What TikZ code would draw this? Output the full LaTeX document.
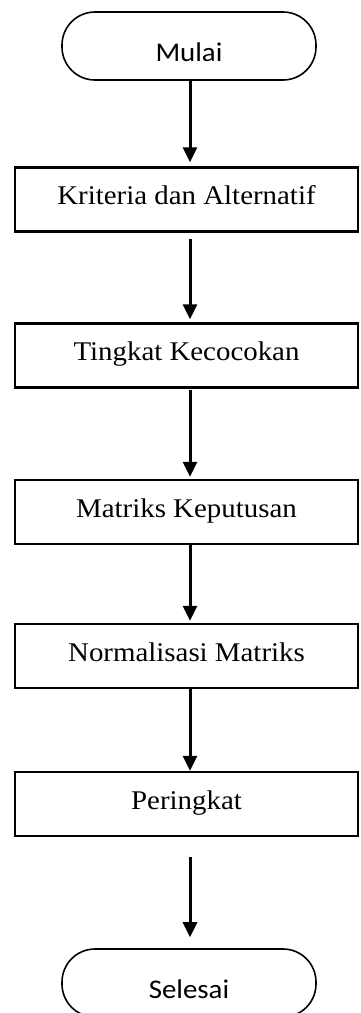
\documentclass[tikz,border=0pt]{standalone}
\usepackage{fontspec}
\setmainfont{Liberation Serif}[FakeStretch=1.07]
\newfontfamily\termfont{Carlito}[FakeStretch=1.07]
\usetikzlibrary{arrows.meta}
\begin{document}
\begin{tikzpicture}[x=1pt,y=-1pt,
  procbox/.style={draw, line width=2.4pt, minimum width=343pt, minimum height=64pt,
    inner sep=0pt, text height=18pt, text depth=8pt, font=\fontsize{27}{32}\selectfont},
  termbox/.style={draw, line width=1.6pt, rounded corners=33pt, minimum width=254pt,
    minimum height=68pt, inner sep=0pt, text height=31pt, text depth=0pt,
    font=\termfont\fontsize{27}{32}\selectfont},
  flow/.style={line width=3pt, -{Triangle[width=14pt,length=15pt]}}]
\clip (0,0) rectangle (361,1013);

% flowchart steps
\node[termbox] (start) at (189,46) {Mulai};
\node[procbox] (crit) at (186.5,199.5) {Kriteria dan Alternatif};
\node[procbox] (match) at (186.5,355.5) {Tingkat Kecocokan};
\node[procbox] (dmat) at (186.5,512) {Matriks Keputusan};
\node[procbox] (norm) at (186.5,656) {Normalisasi Matriks};
\node[procbox] (rank) at (186.5,804) {Peringkat};
\node[termbox] (stop) at (189,983) {Selesai};

% vertical guide for the arrows
\coordinate (ax) at (190,0);

\draw[flow, shorten >=4pt] (start.south -| ax) -- (crit.north -| ax);
\draw[flow, shorten <=6pt, shorten >=3pt] (crit.south -| ax) -- (match.north -| ax);
\draw[flow, shorten <=1pt, shorten >=2pt] (match.south -| ax) -- (dmat.north -| ax);
\draw[flow, shorten >=2pt] (dmat.south -| ax) -- (norm.north -| ax);
\draw[flow] (norm.south -| ax) -- (rank.north -| ax);
\draw[flow, shorten <=20pt, shorten >=11pt] (rank.south -| ax) -- (stop.north -| ax);
\end{tikzpicture}
\end{document}
